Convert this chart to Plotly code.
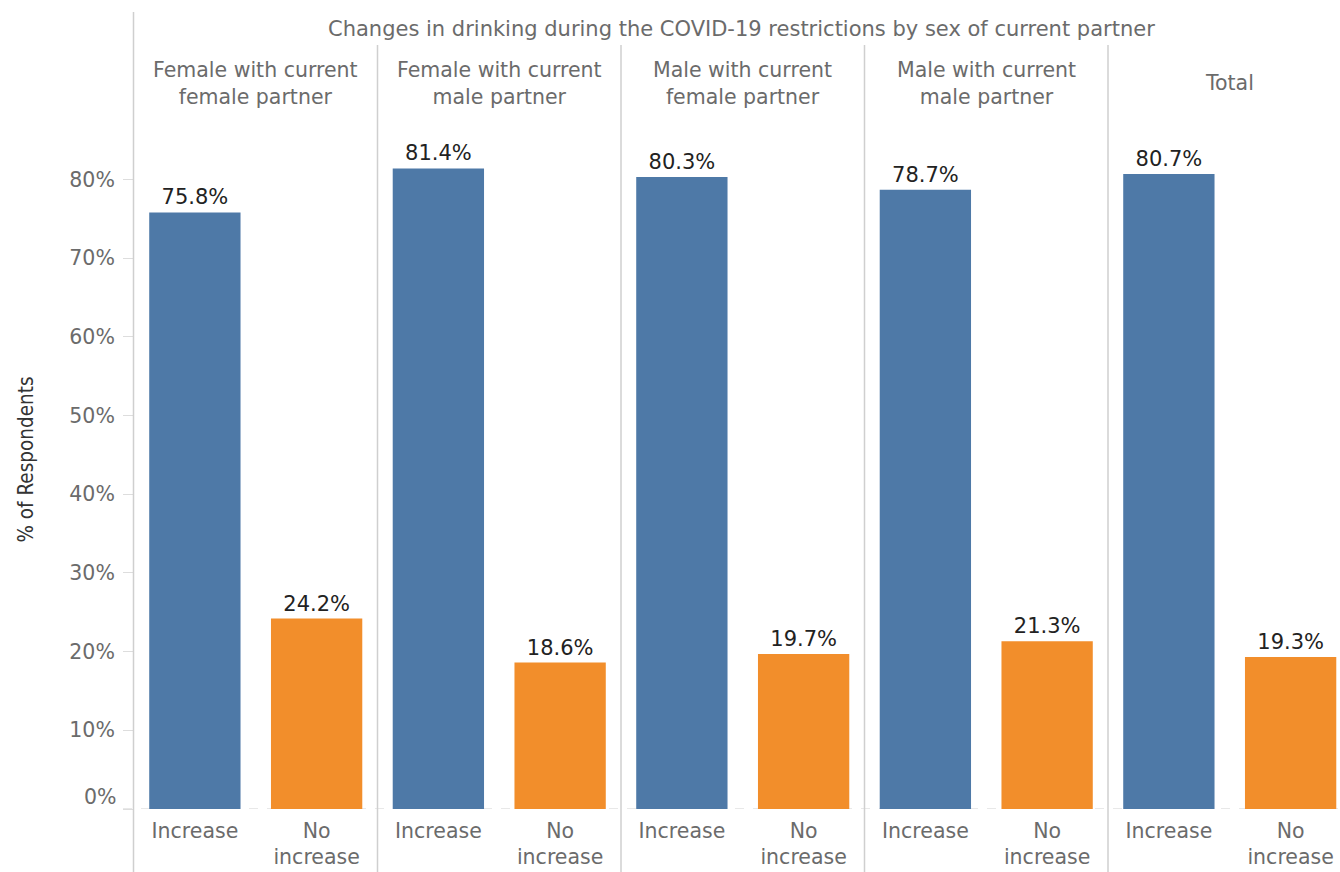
import plotly.graph_objects as go

# ---- data ----
panels = ["Female with current<br>female partner", "Female with current<br>male partner",
          "Male with current<br>female partner", "Male with current<br>male partner", "Total"]
categories = ["Increase", "No<br>increase"]
increase = [75.8, 81.4, 80.3, 78.7, 80.7]
no_increase = [24.2, 18.6, 19.7, 21.3, 19.3]
y_ticks = [0, 10, 20, 30, 40, 50, 60, 70, 80]
y_ticklabels = ["", "10%", "20%", "30%", "40%", "50%", "60%", "70%", "80%"]
title_text = "Changes in drinking during the COVID-19 restrictions by sex of current partner"

BLUE = "#4e79a7"
ORANGE = "#f28e2b"
GRAY_TXT = "#6b6b6b"
LINE = "#cfcfcf"
FONT = "DejaVu Sans"

W_FIG, H_FIG = 1340, 872
L, R, T, B = 134, 0, 110, 63
PW = W_FIG - L - R
PH = H_FIG - T - B
panel_w = 243.5

def px_x(px):
    return (px - L) / PW

def px_y(py):
    return (H_FIG - B - py) / PH

fig = go.Figure()
layout_axes = {}
for i in range(len(panels)):
    x0 = i * panel_w
    x1 = min((i + 1) * panel_w, PW)
    cat_w = panel_w / 2
    rng = [-0.5, -0.5 + (x1 - x0) / cat_w]
    name = "xaxis" if i == 0 else f"xaxis{i+1}"
    ref = "x" if i == 0 else f"x{i+1}"
    layout_axes[name] = dict(
        domain=[x0 / PW, x1 / PW], range=rng, anchor="y",
        showgrid=False, zeroline=False, showline=False, ticks="",
        ticklabelstandoff=7,
        tickfont=dict(family=FONT, size=20.5, color=GRAY_TXT),
        type="category", fixedrange=True,
    )
    fig.add_trace(go.Bar(
        x=categories, y=[increase[i], no_increase[i]],
        xaxis=ref, yaxis="y", width=0.75,
        marker=dict(color=[BLUE, ORANGE], line=dict(width=0)),
        text=[f"{v:.1f}%" for v in (increase[i], no_increase[i])],
        textposition="outside", cliponaxis=False,
        textfont=dict(family=FONT, size=21, color="#222222"),
        showlegend=False, hoverinfo="skip",
    ))

shapes = []
# left border line
shapes.append(dict(type="line", xref="paper", yref="paper",
                   x0=px_x(133.5), x1=px_x(133.5), y0=px_y(12), y1=px_y(872),
                   line=dict(color=LINE, width=1.5)))
# panel separators
for i in range(1, len(panels)):
    xp = L + i * panel_w
    shapes.append(dict(type="line", xref="paper", yref="paper",
                       x0=px_x(xp), x1=px_x(xp), y0=px_y(45), y1=px_y(872),
                       line=dict(color=LINE, width=1.5)))
# dashed zero line
shapes.append(dict(type="line", xref="paper", yref="y", layer="below",
                   x0=px_x(123), x1=1, y0=0, y1=0,
                   line=dict(color="#d0d0d0", width=1, dash="dash")))

annotations = []
annotations.append(dict(text=title_text, xref="paper", yref="paper",
                        x=px_x(741), y=px_y(29), xanchor="center", yanchor="middle",
                        showarrow=False,
                        font=dict(family=FONT, size=21, color=GRAY_TXT)))
for i, p in enumerate(panels):
    cx = L + (i + 0.5) * panel_w
    annotations.append(dict(text=p, xref="paper", yref="paper",
                            x=px_x(cx), y=px_y(83), xanchor="center", yanchor="middle",
                            showarrow=False,
                            font=dict(family=FONT, size=20.5, color=GRAY_TXT)))
annotations.append(dict(text="0%", xref="paper", yref="y", x=0, y=0,
                        xanchor="right", yanchor="middle", xshift=-15, yshift=12,
                        showarrow=False,
                        font=dict(family=FONT, size=20.5, color=GRAY_TXT)))

fig.update_layout(
    width=W_FIG, height=H_FIG,
    margin=dict(l=L, r=R, t=T, b=B, pad=0),
    paper_bgcolor="white", plot_bgcolor="white",
    yaxis=dict(range=[0, PH / 7.87], tickvals=y_ticks, ticktext=y_ticklabels,
               showgrid=False, zeroline=False, showline=False,
               ticks="outside", ticklen=10, tickcolor="#dddddd",
               ticklabelstandoff=4,
               tickfont=dict(family=FONT, size=20.5, color=GRAY_TXT),
               title=dict(text="% of Respondents", standoff=30,
                          font=dict(family="DejaVu Sans Condensed, Liberation Sans, sans-serif",
                                    size=20.5, color="#333333")),
               fixedrange=True),
    shapes=shapes, annotations=annotations,
    **layout_axes,
)

fig.write_html("out.html", config={"displayModeBar": False},
               post_script="document.body.style.margin='0';")
